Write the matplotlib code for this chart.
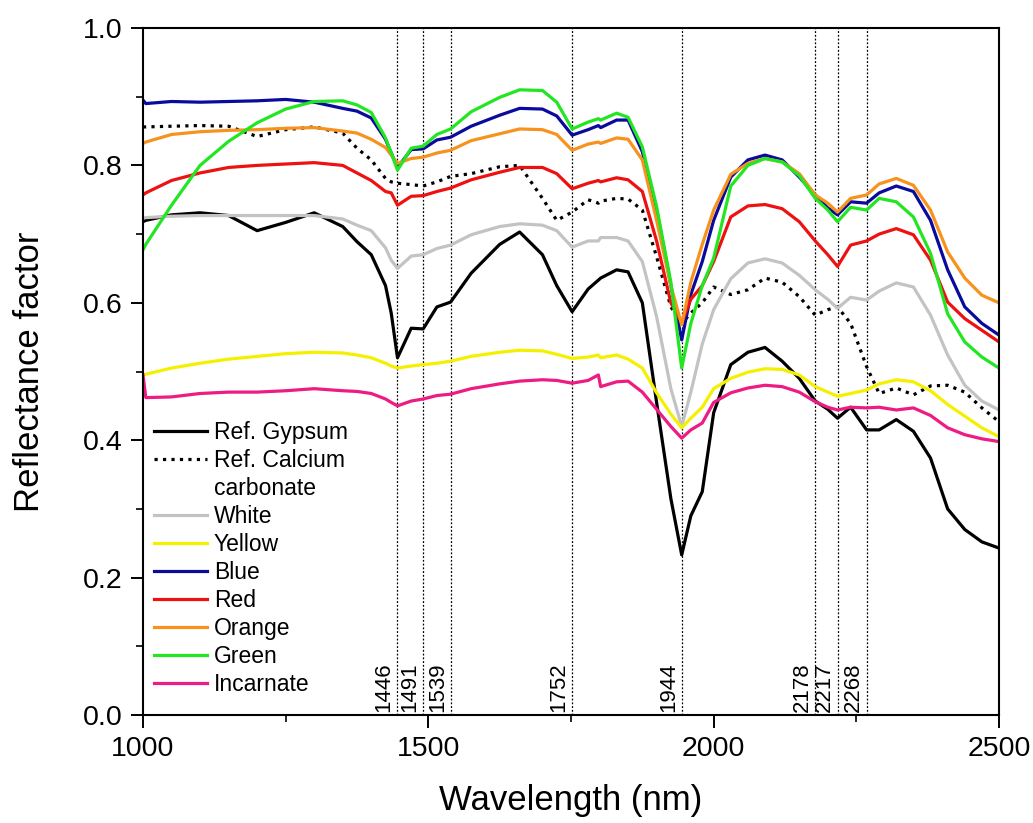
import matplotlib
matplotlib.use("Agg")
import matplotlib.pyplot as plt
from matplotlib.lines import Line2D
from matplotlib.ticker import MultipleLocator

plt.rcParams['font.family'] = ['Liberation Sans', 'DejaVu Sans']

# wavelength grid (nm) shared by all spectra
wl = [1000, 1005, 1050, 1100, 1150, 1200, 1250, 1300, 1350, 1375,
      1400, 1425, 1435, 1446, 1470, 1491, 1515, 1539, 1575, 1625,
      1660, 1700, 1725, 1752, 1780, 1798, 1802, 1830, 1850, 1875,
      1900, 1925, 1944, 1960, 1980, 2000, 2030, 2060, 2090, 2120,
      2150, 2178, 2200, 2217, 2240, 2268, 2290, 2320, 2350, 2380,
      2410, 2440, 2470, 2500]

gypsum = [0.718, 0.720, 0.728, 0.731, 0.727, 0.705, 0.717, 0.731, 0.711, 0.689,
          0.670, 0.625, 0.585, 0.520, 0.563, 0.562, 0.594, 0.601, 0.643, 0.685,
          0.703, 0.670, 0.625, 0.587, 0.620, 0.633, 0.636, 0.648, 0.645, 0.600,
          0.455, 0.315, 0.233, 0.290, 0.325, 0.440, 0.510, 0.528, 0.535, 0.515,
          0.490, 0.457, 0.445, 0.432, 0.448, 0.415, 0.415, 0.430, 0.413, 0.374,
          0.300, 0.270, 0.252, 0.243]

calcium = [0.856, 0.856, 0.857, 0.858, 0.857, 0.842, 0.852, 0.856, 0.847, 0.825,
           0.808, 0.781, 0.776, 0.774, 0.772, 0.770, 0.776, 0.784, 0.788, 0.798,
           0.800, 0.752, 0.720, 0.732, 0.750, 0.745, 0.748, 0.752, 0.751, 0.735,
           0.667, 0.594, 0.570, 0.585, 0.600, 0.623, 0.612, 0.619, 0.636, 0.630,
           0.609, 0.582, 0.590, 0.594, 0.570, 0.507, 0.468, 0.476, 0.466, 0.479,
           0.480, 0.470, 0.447, 0.427]

white = [0.723, 0.724, 0.726, 0.727, 0.727, 0.727, 0.727, 0.727, 0.722, 0.713,
         0.705, 0.680, 0.662, 0.650, 0.668, 0.670, 0.679, 0.684, 0.699, 0.711,
         0.715, 0.713, 0.705, 0.681, 0.690, 0.690, 0.695, 0.695, 0.690, 0.660,
         0.580, 0.475, 0.420, 0.470, 0.540, 0.590, 0.635, 0.658, 0.664, 0.658,
         0.640, 0.619, 0.605, 0.592, 0.608, 0.604, 0.617, 0.629, 0.623, 0.582,
         0.524, 0.480, 0.457, 0.444]

yellow = [0.495, 0.496, 0.505, 0.512, 0.518, 0.522, 0.526, 0.528, 0.527, 0.524,
          0.520, 0.512, 0.508, 0.505, 0.508, 0.510, 0.512, 0.515, 0.522, 0.528,
          0.531, 0.530, 0.525, 0.519, 0.521, 0.524, 0.520, 0.524, 0.518, 0.505,
          0.469, 0.438, 0.418, 0.432, 0.448, 0.475, 0.490, 0.499, 0.504, 0.503,
          0.495, 0.478, 0.470, 0.464, 0.468, 0.473, 0.482, 0.488, 0.485, 0.472,
          0.452, 0.435, 0.418, 0.405]

blue = [0.895, 0.890, 0.893, 0.892, 0.893, 0.894, 0.896, 0.892, 0.883, 0.879,
        0.869, 0.838, 0.818, 0.797, 0.823, 0.824, 0.837, 0.841, 0.857, 0.873,
        0.883, 0.882, 0.872, 0.844, 0.852, 0.858, 0.855, 0.866, 0.866, 0.820,
        0.735, 0.625, 0.546, 0.612, 0.660, 0.720, 0.783, 0.808, 0.815, 0.808,
        0.783, 0.757, 0.738, 0.728, 0.747, 0.745, 0.760, 0.770, 0.762, 0.720,
        0.648, 0.594, 0.570, 0.553]

red = [0.757, 0.760, 0.778, 0.789, 0.797, 0.800, 0.802, 0.804, 0.800, 0.789,
       0.778, 0.762, 0.760, 0.742, 0.755, 0.756, 0.762, 0.767, 0.779, 0.790,
       0.797, 0.797, 0.788, 0.766, 0.774, 0.778, 0.776, 0.782, 0.779, 0.762,
       0.690, 0.600, 0.571, 0.605, 0.625, 0.660, 0.725, 0.741, 0.743, 0.737,
       0.718, 0.690, 0.670, 0.653, 0.684, 0.690, 0.700, 0.708, 0.699, 0.662,
       0.601, 0.577, 0.560, 0.543]

orange = [0.832, 0.834, 0.845, 0.849, 0.851, 0.852, 0.854, 0.855, 0.850, 0.847,
          0.838, 0.826, 0.815, 0.803, 0.810, 0.812, 0.818, 0.822, 0.836, 0.846,
          0.853, 0.852, 0.845, 0.822, 0.831, 0.834, 0.832, 0.840, 0.838, 0.808,
          0.720, 0.625, 0.568, 0.630, 0.685, 0.735, 0.787, 0.803, 0.810, 0.805,
          0.788, 0.757, 0.745, 0.732, 0.752, 0.757, 0.773, 0.781, 0.771, 0.735,
          0.674, 0.636, 0.611, 0.600]

green = [0.677, 0.685, 0.742, 0.800, 0.835, 0.862, 0.882, 0.893, 0.894, 0.888,
         0.877, 0.840, 0.818, 0.793, 0.825, 0.828, 0.845, 0.853, 0.878, 0.899,
         0.910, 0.909, 0.892, 0.853, 0.863, 0.868, 0.866, 0.876, 0.870, 0.827,
         0.740, 0.630, 0.505, 0.570, 0.625, 0.665, 0.770, 0.800, 0.810, 0.805,
         0.785, 0.752, 0.735, 0.718, 0.739, 0.735, 0.752, 0.747, 0.725, 0.672,
         0.584, 0.543, 0.521, 0.505]

incarnate = [0.495, 0.462, 0.463, 0.468, 0.470, 0.470, 0.472, 0.475, 0.472, 0.471,
             0.468, 0.460, 0.455, 0.450, 0.457, 0.460, 0.465, 0.467, 0.475, 0.482,
             0.486, 0.488, 0.487, 0.483, 0.487, 0.495, 0.478, 0.485, 0.486, 0.470,
             0.445, 0.420, 0.403, 0.415, 0.425, 0.455, 0.469, 0.476, 0.480, 0.478,
             0.470, 0.456, 0.448, 0.444, 0.448, 0.447, 0.448, 0.444, 0.447, 0.436,
             0.418, 0.408, 0.402, 0.398]

# absorption bands marked with dotted lines
bands = [1446, 1491, 1539, 1752, 1944, 2178, 2217, 2268]

fig = plt.figure(figsize=(10.33, 8.23), dpi=100)
ax = fig.add_axes([0.1384, 0.1312, 0.8287, 0.8348])

for b in bands:
    ax.axvline(b, color='black', lw=0.9, ls=(0, (1.5, 1.5)), zorder=1)
    ax.annotate(str(b), xy=(b, 0), xytext=(-2, 2), textcoords='offset points',
                rotation=90, ha='right', va='bottom', fontsize=16)

lw = 2.3
h_gyp, = ax.plot(wl, gypsum, color='black', lw=lw)
h_cal, = ax.plot(wl, calcium, color='black', lw=lw, ls=':')
h_whi, = ax.plot(wl, white, color='#c3c3c3', lw=lw)
h_yel, = ax.plot(wl, yellow, color='#f5f000', lw=lw)
h_blu, = ax.plot(wl, blue, color='#0a0a9c', lw=lw)
h_red, = ax.plot(wl, red, color='#ee1111', lw=lw)
h_ora, = ax.plot(wl, orange, color='#f7921e', lw=lw)
h_gre, = ax.plot(wl, green, color='#22e622', lw=lw)
h_inc, = ax.plot(wl, incarnate, color='#ee1b82', lw=lw)

blank = Line2D([], [], color='none')
handles = [h_gyp, h_cal, blank, h_whi, h_yel, h_blu, h_red, h_ora, h_gre, h_inc]
labels = ['Ref. Gypsum', 'Ref. Calcium', 'carbonate', 'White', 'Yellow',
          'Blue', 'Red', 'Orange', 'Green', 'Incarnate']
ax.legend(handles, labels, loc='upper left', bbox_to_anchor=(0.0, 0.445),
          frameon=False, fontsize=16.5, handlelength=2.3, handletextpad=0.3,
          labelspacing=0.22, borderaxespad=0.3, borderpad=0.2)

ax.set_xlim(1000, 2500)
ax.set_ylim(0.0, 1.0)
ax.set_xticks([1000, 1500, 2000, 2500])
ax.xaxis.set_minor_locator(MultipleLocator(250))
ax.yaxis.set_major_locator(MultipleLocator(0.2))
ax.yaxis.set_minor_locator(MultipleLocator(0.1))
ax.yaxis.set_major_formatter(plt.FormatStrFormatter('%.1f'))

ax.tick_params(which='major', direction='out', length=9, width=1.4,
               labelsize=20.5, pad=6)
ax.tick_params(which='minor', direction='out', length=5, width=1.2)
for s in ax.spines.values():
    s.set_linewidth(1.5)

ax.set_xlabel('Wavelength (nm)', fontsize=25, labelpad=16)
ax.set_ylabel('Reflectance factor', fontsize=25, labelpad=26)

fig.savefig('out.png', dpi=100)
